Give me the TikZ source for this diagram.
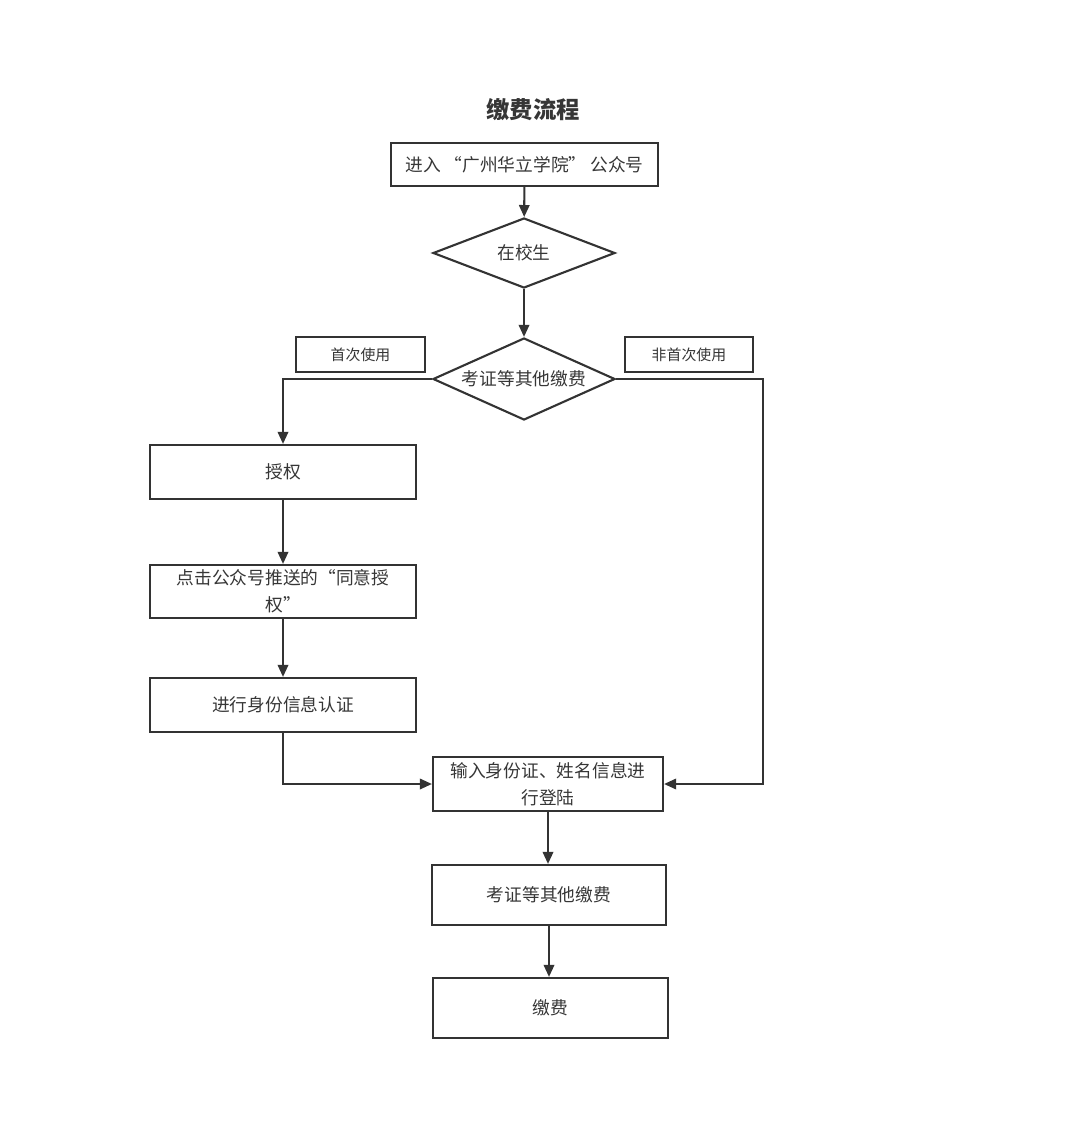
\documentclass[tikz,border=0pt]{standalone}
\usepackage{fontspec}
\setmainfont{Noto Sans CJK SC}
\usetikzlibrary{shapes.geometric, arrows.meta}
\definecolor{linegray}{HTML}{333333}
\definecolor{textgray}{HTML}{363636}

\begin{document}
\begin{tikzpicture}[x=0.025cm, y=-0.025cm]
\tikzstyle{processbox} = [rectangle, minimum width=6.65cm, minimum height=1.35cm, text centered, align=center, draw=linegray, line width=1.5pt, text=textgray, font=\fontsize{12.6}{19}\selectfont]
\tikzstyle{decision} = [diamond, aspect=2.2, inner sep=0pt, minimum width=4.55cm, minimum height=1.75cm, text centered, draw=linegray, line width=1.5pt, text=textgray, font=\fontsize{12.6}{19}\selectfont]
\tikzstyle{tagbox} = [rectangle, minimum width=3.225cm, minimum height=0.875cm, text centered, draw=linegray, line width=1.5pt, text=textgray, font=\fontsize{10.6}{13}\selectfont]
\tikzstyle{flowarrow} = [-{Triangle[length=0.3cm, width=0.26cm]}, draw=linegray, line width=1.5pt]

\useasboundingbox (0,0) rectangle (1080,1123);

\node (title) at (533,110) [text=textgray, font=\fontsize{16.6}{20}\selectfont\bfseries] {缴费流程};
\node (enter) at (524.5,164.5) [processbox, minimum width=6.675cm, minimum height=1.075cm] {进入 “广州华立学院” 公众号};
\node (school) at (524,253) [decision] {在校生};
\node (exam) at (524,379) [decision, minimum height=2.05cm] {考证等其他缴费};
\node (first) at (360.5,354.5) [tagbox] {首次使用};
\node (notfirst) at (689,354.5) [tagbox, minimum width=3.2cm] {非首次使用};
\node (auth) at (283,472) [processbox] {授权};
\node (agree) at (283,591.5) [processbox, minimum height=1.325cm] {点击公众号推送的“同意授\\权”};
\node (verify) at (283,705) [processbox] {进行身份信息认证};
\node (login) at (548,784) [processbox, minimum width=5.75cm] {输入身份证、姓名信息进\\行登陆};
\node (payexam) at (549,895) [processbox, minimum width=5.85cm, minimum height=1.5cm] {考证等其他缴费};
\node (pay) at (550.5,1008) [processbox, minimum width=5.875cm, minimum height=1.5cm] {缴费};
\coordinate (turn) at (763,379);

\draw[flowarrow] (enter) -- (school);
\draw[flowarrow] (school) -- (exam);
\draw[flowarrow] (exam.west) -| (auth.north);
\draw[flowarrow] (auth) -- (agree);
\draw[flowarrow] (agree) -- (verify);
\draw[flowarrow] (verify.south) |- (login.west);
\draw[flowarrow] (exam.east) -- (turn) |- (login.east);
\draw[flowarrow] (login.south) -- (login.south |- payexam.north);
\draw[flowarrow] (payexam.south) -- (payexam.south |- pay.north);

\end{tikzpicture}
\end{document}
